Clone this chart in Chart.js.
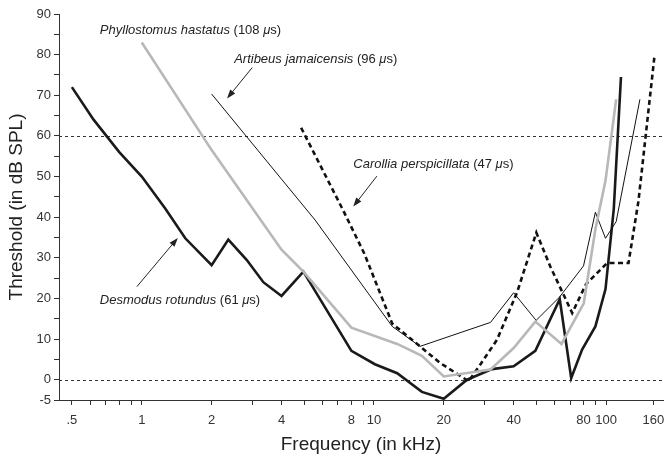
<!DOCTYPE html>
<html>
<head>
<meta charset="utf-8">
<script src="https://cdn.jsdelivr.net/npm/chart.js@4.4.0/dist/chart.umd.min.js"></script>
<style>
  body { margin: 0; background: #fff; }
  #wrap { width: 665px; height: 458px; }
</style>
</head>
<body>
<div id="wrap"><canvas id="audiogram" width="665" height="458"></canvas></div>
<script>
// dati (frequenza in kHz, soglia in dB SPL)
const desmodusFreq = [0.5, 0.62, 0.8, 1, 1.26, 1.54, 2, 2.36, 2.83, 3.34, 4, 4.97, 8, 10.1, 12.6, 16.1, 20, 25.2, 32.3, 40, 49.6, 63.2, 70.8, 78.9, 90, 99.5, 108, 116];
const desmodusDb   = [72, 64, 56, 50, 42.2, 34.8, 28.2, 34.5, 29.5, 24, 20.6, 26.6, 7.1, 3.8, 1.6, -3, -4.7, 0, 2.6, 3.3, 7.1, 19.8, 0.4, 7.4, 13.1, 22.3, 42, 74.5];

const phylloFreq = [1, 2, 4, 4.97, 8, 12.6, 16.1, 20, 31.8, 40, 49.6, 64.3, 80.2, 90, 99.5, 110.6];
const phylloDb   = [83, 56.5, 32, 26.6, 12.8, 8.8, 5.9, 0.8, 2.5, 7.8, 14.3, 8.8, 18.8, 37, 49, 69];

const artibeusFreq = [2, 5.58, 12, 15.8, 31.8, 40, 50, 63, 80, 90, 99.5, 110.6, 140];
const artibeusDb   = [70.3, 39.3, 13.1, 8.2, 14.1, 21.4, 14.6, 20.3, 28, 41.2, 34.8, 38.9, 69];

const carolliaFreq = [4.86, 7.4, 9.1, 12, 15.8, 19.3, 23.2, 25.6, 28.7, 33.9, 41.4, 50.1, 57.6, 71.5, 82, 101, 125, 138, 162];
const carolliaDb   = [62, 41.5, 31, 13.8, 8.2, 4.1, 1.2, -0.4, 3.7, 9.8, 21.5, 36.2, 27.8, 16.4, 23.5, 28.7, 28.7, 44, 80];

const refLevels = [0, 60];   // linee tratteggiate orizzontali

const xTickValues = [0.5, 0.6, 0.7, 0.8, 0.9, 1, 2, 3, 4, 5, 6, 7, 8, 9, 10, 20, 30, 40, 50, 60, 70, 80, 90, 100, 160];
const xTickLabels = { 0.5: '.5', 1: '1', 2: '2', 4: '4', 8: '8', 10: '10', 20: '20', 40: '40', 80: '80', 100: '100', 160: '160' };

// etichette delle specie (posizione in coordinate dati)
const speciesNames = ['Phyllostomus hastatus', 'Artibeus jamaicensis', 'Carollia perspicillata', 'Desmodus rotundus'];
const speciesTimes = ['108', '96', '47', '61'];
const labelAt = [[0.66, 85.9], [2.5, 78.9], [8.15, 53.1], [0.66, 19.6]];
const arrows = [null, [[2.99, 76.8], [2.33, 69.2]], [[10.3, 50.1], [8.15, 42.6]], [[0.953, 22.9], [1.43, 34.9]]];

function pairs(fs, ds) {
  return fs.map((f, i) => ({ x: f, y: ds[i] }));
}

const FONT = '"Liberation Sans", Arial, sans-serif';

const annotPlugin = {
  id: 'annot',
  beforeDatasetsDraw(chart) {
    const { ctx, chartArea, scales } = chart;
    ctx.save();
    ctx.strokeStyle = '#333';
    ctx.lineWidth = 1;
    ctx.setLineDash([3, 3]);
    refLevels.forEach(v => {
      const y = Math.round(scales.y.getPixelForValue(v)) + 0.5;
      ctx.beginPath();
      ctx.moveTo(chartArea.left, y);
      ctx.lineTo(chartArea.right, y);
      ctx.stroke();
    });
    ctx.restore();
  },
  afterDraw(chart) {
    const { ctx, scales } = chart;
    ctx.save();
    ctx.fillStyle = '#222';
    ctx.textBaseline = 'middle';
    speciesNames.forEach((name, i) => {
      let x = scales.x.getPixelForValue(labelAt[i][0]);
      const y = scales.y.getPixelForValue(labelAt[i][1]);
      const parts = [[name + ' ', 'italic'], ['(' + speciesTimes[i] + ' ', 'normal'], ['\u03bc', 'italic'], ['s)', 'normal']];
      parts.forEach(p => {
        ctx.font = p[1] + ' 13px ' + FONT;
        ctx.fillText(p[0], x, y);
        x += ctx.measureText(p[0]).width;
      });
      const a = arrows[i];
      if (a) {
        const x1 = scales.x.getPixelForValue(a[0][0]), y1 = scales.y.getPixelForValue(a[0][1]);
        const x2 = scales.x.getPixelForValue(a[1][0]), y2 = scales.y.getPixelForValue(a[1][1]);
        const ang = Math.atan2(y2 - y1, x2 - x1);
        ctx.strokeStyle = '#222';
        ctx.lineWidth = 1;
        ctx.beginPath();
        ctx.moveTo(x1, y1);
        ctx.lineTo(x2 - 6 * Math.cos(ang), y2 - 6 * Math.sin(ang));
        ctx.stroke();
        ctx.beginPath();   // punta della freccia
        ctx.moveTo(x2, y2);
        ctx.lineTo(x2 - 9 * Math.cos(ang) + 3.2 * Math.sin(ang), y2 - 9 * Math.sin(ang) - 3.2 * Math.cos(ang));
        ctx.lineTo(x2 - 9 * Math.cos(ang) - 3.2 * Math.sin(ang), y2 - 9 * Math.sin(ang) + 3.2 * Math.cos(ang));
        ctx.closePath();
        ctx.fill();
      }
    });
    ctx.restore();
  }
};

new Chart('audiogram', {
  type: 'line',
  data: {
    datasets: [
      { label: 'Phyllostomus hastatus', data: pairs(phylloFreq, phylloDb), borderColor: '#b8b8b8', borderWidth: 2.6 },
      { label: 'Artibeus jamaicensis', data: pairs(artibeusFreq, artibeusDb), borderColor: '#111', borderWidth: 1 },
      { label: 'Carollia perspicillata', data: pairs(carolliaFreq, carolliaDb), borderColor: '#111', borderWidth: 2.6, borderDash: [5, 3.5] },
      { label: 'Desmodus rotundus', data: pairs(desmodusFreq, desmodusDb), borderColor: '#1a1a1a', borderWidth: 2.6 }
    ]
  },
  options: {
    responsive: false,
    animation: false,
    layout: { padding: { top: 14, right: 2, left: 0, bottom: 0 } },
    elements: { point: { radius: 0 }, line: { tension: 0, borderJoinStyle: 'miter', borderCapStyle: 'butt' } },
    plugins: { legend: { display: false }, tooltip: { enabled: false } },
    scales: {
      x: {
        type: 'logarithmic',
        min: 0.44,
        max: 176,
        afterBuildTicks: s => { s.ticks = xTickValues.map(v => ({ value: v })); },
        afterFit: s => { s.height = 58; s.paddingLeft = 0; s.paddingRight = 0; },
        ticks: {
          autoSkip: false, maxRotation: 0, padding: 8,
          color: '#333', font: { family: FONT, size: 13 },
          callback: v => xTickLabels[v] || ''
        },
        grid: { drawOnChartArea: false, tickLength: 5, color: '#333' },
        border: { color: '#333', width: 1 },
        title: { display: true, text: 'Frequency (in kHz)', color: '#222', font: { family: FONT, size: 19 }, padding: { top: 0, bottom: 1.6 } }
      },
      y: {
        min: -5,
        max: 90,
        afterBuildTicks: s => {
          const t = [];
          for (let v = -5; v <= 90; v += 5) t.push({ value: v });
          s.ticks = t;
        },
        afterFit: s => { s.width = 59; s.paddingTop = 0; s.paddingBottom = 0; },
        ticks: {
          autoSkip: false, padding: 3,
          color: '#333', font: { family: FONT, size: 13 },
          callback: v => (v % 10 === 0 || v === -5) ? String(v) : ''
        },
        grid: { drawOnChartArea: false, tickLength: 5, color: '#333' },
        border: { color: '#333', width: 1 },
        title: { display: true, text: 'Threshold (in dB SPL)', color: '#222', font: { family: FONT, size: 19 }, padding: { top: 5.5, bottom: 0 } }
      }
    }
  },
  plugins: [annotPlugin]
});
</script>
</body>
</html>
